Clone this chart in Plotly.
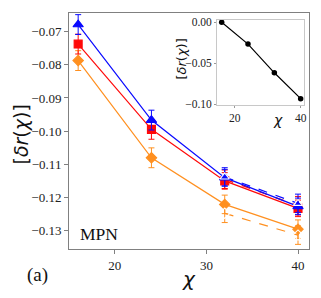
import plotly.graph_objects as go

chi = [16, 24, 32, 40]
chi_tail = [32, 40]

blue_vals = [-0.0678, -0.0967, -0.1141, -0.1228]
blue_err = [0.0030, 0.0030, 0.0025, 0.0025]
red_vals = [-0.0737, -0.0995, -0.1151, -0.1234]
red_err = [0.0030, 0.0030, 0.0025, 0.0025]
orange_vals = [-0.0787, -0.1081, -0.1222, -0.1297]
orange_err = [0.0030, 0.0030, 0.0028, 0.0028]

blue_dash = [-0.1139, -0.1219]
blue_dash_err = [0.0028, 0.0028]
red_dash = [-0.1146, -0.1226]
red_dash_err = [0.0028, 0.0028]
orange_dash = [-0.1249, -0.1315]
orange_dash_err = [0.0028, 0.0028]

inset_vals = [0.0, -0.0265, -0.0615, -0.093]

main_yticks = [-0.07, -0.08, -0.09, -0.10, -0.11, -0.12, -0.13]
main_xticks = [20, 30, 40]
inset_yticks = [0.0, -0.05, -0.10]
inset_xticks = [20, 40]

BLUE = "#0a0aff"
RED = "#ff0a0a"
ORANGE = "#ff9020"
SERIF = "Liberation Serif, Times New Roman, serif"

fig = go.Figure()

def add(x, y, err, color, symbol, dash, size):
    fig.add_trace(go.Scatter(
        x=x, y=y, mode="lines+markers",
        line=dict(color=color, width=1.2, dash=dash),
        marker=dict(symbol=symbol, color=color if "open" not in symbol else "white",
                    size=size, line=dict(color=color, width=1.1)),
        error_y=dict(type="data", array=err, color=color, thickness=1, width=3),
        showlegend=False, xaxis="x", yaxis="y"))

add(chi_tail, red_dash, red_dash_err, RED, "square-open", "dash", 7)
add(chi, orange_vals, orange_err, ORANGE, "diamond", "solid", 8)
add(chi, red_vals, red_err, RED, "square", "solid", 8)
add(chi, blue_vals, blue_err, BLUE, "triangle-up", "solid", 9)
add(chi_tail, orange_dash, orange_dash_err, ORANGE, "diamond-open", "dash", 8)
add(chi_tail, blue_dash, blue_dash_err, BLUE, "triangle-up-open", "dash", 8)

fig.add_trace(go.Scatter(
    x=chi, y=inset_vals, mode="lines+markers",
    line=dict(color="black", width=1.2),
    marker=dict(color="black", size=5.5),
    showlegend=False, xaxis="x2", yaxis="y2"))

axis_font = dict(family=SERIF, size=13, color="#222")
inset_font = dict(family=SERIF, size=11.5, color="#222")

fig.update_layout(
    width=321, height=298,
    margin=dict(l=61, r=20, t=2, b=57),
    paper_bgcolor="white", plot_bgcolor="white",
    xaxis=dict(domain=[0, 1], range=[15.0, 41.2], tickvals=main_xticks,
               showgrid=False, zeroline=False, showline=True, mirror=True,
               linecolor="#808080", linewidth=1, ticks="outside", ticklen=4,
               tickcolor="#808080", tickfont=axis_font),
    yaxis=dict(domain=[0, 1], range=[-0.1357, -0.0643],
               tickvals=main_yticks, tickformat=".2f",
               showgrid=False, zeroline=False, showline=True, mirror=True,
               linecolor="#808080", linewidth=1, ticks="outside", ticklen=4,
               tickcolor="#808080", tickfont=axis_font),
    xaxis2=dict(domain=[0.617, 0.979], anchor="y2", range=[14.6, 41.0],
                tickvals=inset_xticks, showgrid=False, zeroline=False,
                showline=True, mirror=True, linecolor="#c8c8c8", linewidth=1,
                ticks="outside", ticklen=2, tickcolor="#999",
                tickfont=inset_font),
    yaxis2=dict(domain=[0.611, 0.971], anchor="x2", range=[-0.1005, 0.003],
                tickvals=inset_yticks, tickformat=".2f",
                showgrid=False, zeroline=False,
                showline=True, mirror=True, linecolor="#c8c8c8", linewidth=1,
                ticks="outside", ticklen=2, tickcolor="#999",
                tickfont=inset_font),
    annotations=[
        dict(text="[<i>δr</i>(<i>χ</i>)]", x=-0.2, y=0.485, xref="paper", yref="paper",
             xanchor="center", yanchor="middle", showarrow=False, textangle=-90,
             font=dict(family="DejaVu Sans", size=19, color="#111")),
        dict(text="<i>χ</i>", x=0.5, y=-0.125, xref="paper", yref="paper",
             xanchor="center", yanchor="middle", showarrow=False,
             font=dict(family="DejaVu Sans", size=20, color="#111")),
        dict(text="MPN", x=0.125, y=0.063, xref="paper", yref="paper",
             xanchor="center", yanchor="middle", showarrow=False,
             font=dict(family=SERIF, size=17.5, color="#111")),
        dict(text="(a)", x=-0.133, y=-0.109, xref="paper", yref="paper",
             xanchor="center", yanchor="middle", showarrow=False,
             font=dict(family=SERIF, size=19, color="#111")),
        dict(text="[<i>δr</i>(<i>χ</i>)]", x=0.467, y=0.803, xref="paper", yref="paper",
             xanchor="center", yanchor="middle", showarrow=False, textangle=-90,
             font=dict(family="DejaVu Sans", size=13, color="#111")),
        dict(text="<i>χ</i>", x=0.871, y=0.545, xref="paper", yref="paper",
             xanchor="center", yanchor="middle", showarrow=False,
             font=dict(family="DejaVu Sans", size=14, color="#111")),
    ],
)

fig.write_html("out.html")
